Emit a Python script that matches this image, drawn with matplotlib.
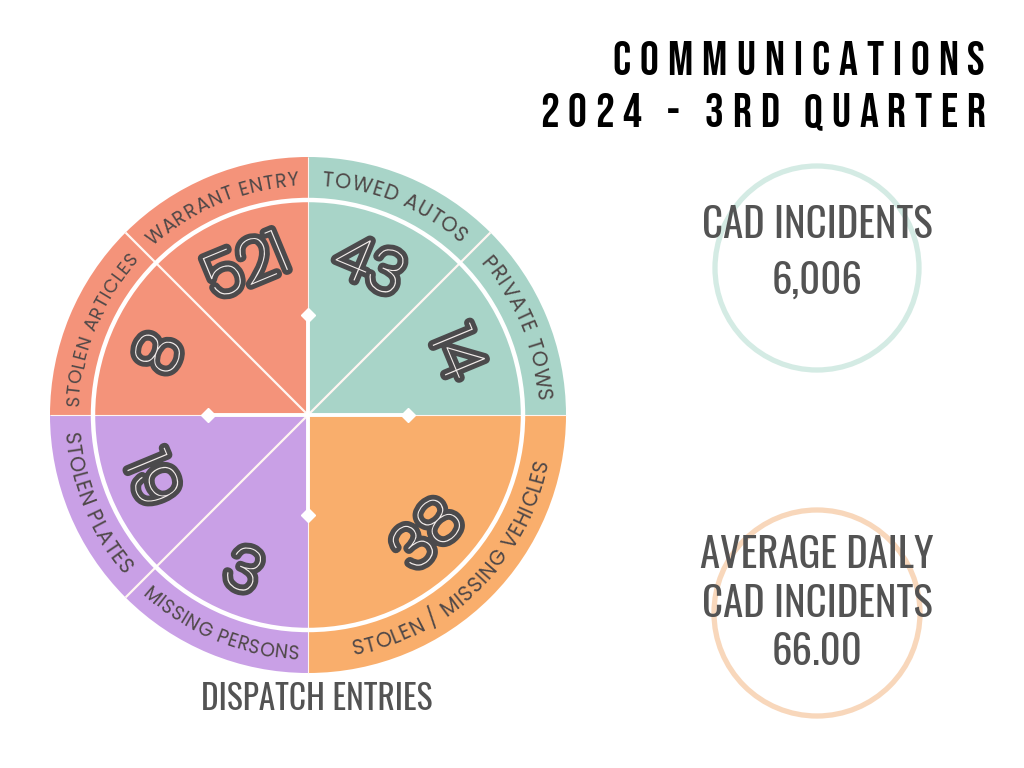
import numpy as np
import matplotlib
matplotlib.use("Agg")
import matplotlib.pyplot as plt
from matplotlib.patches import Circle
from matplotlib.font_manager import FontProperties
from matplotlib.textpath import TextToPath
import matplotlib.patheffects as pe

# data
segments = ["TOWED AUTOS", "PRIVATE TOWS", "STOLEN / MISSING VEHICLES",
            "MISSING PERSONS", "STOLEN PLATES", "STOLEN ARTICLES", "WARRANT ENTRY"]
counts = [43, 14, 38, 3, 19, 8, 521]
spans = [45, 45, 90, 45, 45, 45, 45]   # fixed layout of the wheel, degrees
seg_colors = ["#a8d4c8", "#a8d4c8", "#f9ae6c", "#c9a0e6", "#c9a0e6", "#f4937a", "#f4937a"]

title_lines = ["COMMUNICATIONS", "2024 - 3RD QUARTER"]
cad_incidents = 6006
avg_daily = 66.00

W, H, DPI = 1024, 768, 100
CX, CY = 308, H - 415
R_OUT, R_RING, R_NUM = 258, 215, 165

t2p = TextToPath()

def Y(y):
    return H - y

def adv(ch, prop):
    # advance width of one char in pixels
    a = t2p.get_text_width_height_descent("H" + ch + "H", prop, ismath=False)[0]
    b = t2p.get_text_width_height_descent("HH", prop, ismath=False)[0]
    return (a - b) * DPI / 72

def cap_size(prop, cap_px):
    p = prop.copy()
    p.set_size(100)
    w, h, d = t2p.get_text_width_height_descent("H", p, ismath=False)
    return 100 * (cap_px * 72 / DPI) / (h - d)

def arc_text(s, theta_c, r, prop, color, top_out=True, track=0.0):
    widths = [adv(c, prop) + track for c in s]
    span = sum(widths) / r
    th = np.radians(theta_c) + (span / 2 if top_out else -span / 2)
    for c, w in zip(s, widths):
        if top_out:
            a = th - (w / 2) / r
            rot = np.degrees(a) - 90
            th -= w / r
        else:
            a = th + (w / 2) / r
            rot = np.degrees(a) + 90
            th += w / r
        ax.text(CX + r * np.cos(a), CY + r * np.sin(a), c, rotation=rot,
                rotation_mode="anchor", ha="center", va="baseline",
                fontproperties=prop, color=color, zorder=8)

def tracked(s, x_left, x_right, y_base, prop, color):
    widths = [adv(c, prop) for c in s]
    gap = (x_right - x_left - sum(widths)) / (len(s) - 1)
    x = x_left
    for c, w in zip(s, widths):
        ax.text(x + w / 2, y_base, c, ha="center", va="baseline",
                fontproperties=prop, color=color)
        x += w + gap

fig = plt.figure(figsize=(W / DPI, H / DPI), dpi=DPI)
ax = fig.add_axes([0, 0, 1, 1])

wedges, _ = ax.pie(spans, colors=seg_colors, startangle=90, counterclock=False,
                   radius=R_OUT, center=(CX, CY), frame=True,
                   wedgeprops=dict(linewidth=0))
ax.set_xlim(0, W)
ax.set_ylim(0, H)
ax.set_aspect("equal")
ax.axis("off")

# thin boundaries and diagonals
for ang in [0, 90, 180, 270]:
    a = np.radians(ang)
    ax.plot([CX, CX + R_OUT * np.cos(a)], [CY, CY + R_OUT * np.sin(a)],
            color="#fff4ef", lw=0.8, solid_capstyle="butt", zorder=3)
for ang in [45, 135, 225]:
    a = np.radians(ang)
    ax.plot([CX, CX + R_OUT * np.cos(a)], [CY, CY + R_OUT * np.sin(a)],
            color="#fff6f2", lw=1.6, solid_capstyle="butt", zorder=3)

ax.add_patch(Circle((CX, CY), R_RING, fill=False, ec="white", lw=3.2, zorder=4))

# thick cross with diamonds
for ang in [0, 90, 180, 270]:
    a = np.radians(ang)
    ax.plot([CX, CX + 100 * np.cos(a)], [CY, CY + 100 * np.sin(a)],
            color="white", lw=2.8, solid_capstyle="butt", zorder=5)
    ax.plot(CX + 100 * np.cos(a), CY + 100 * np.sin(a), marker="D", ms=7,
            color="white", mec="white", zorder=6)

LAB_SIZE = 14.8
num_prop = FontProperties(family=["Poppins", "Lato", "DejaVu Sans"], weight=200, size=44)
lab_cap = 15
TRACK = 0.8

for wdg, name, n in zip(wedges, segments, counts):
    mid = ((wdg.theta1 + wdg.theta2) / 2) % 360
    seg_span = abs(wdg.theta2 - wdg.theta1)
    top = np.sin(np.radians(mid)) > 0
    r_lab = 237 - lab_cap / 2 if top else 237 + lab_cap / 2
    # shrink a label that would run past its segment
    lab_prop = FontProperties(family=["Poppins", "Lato", "DejaVu Sans"], size=LAB_SIZE)
    natural = np.degrees(sum(adv(c, lab_prop) + TRACK for c in name) / r_lab)
    limit = seg_span * 0.9 if seg_span < 60 else seg_span * 0.85
    if natural > limit:
        lab_prop.set_size(LAB_SIZE * limit / natural)
    arc_text(name, mid, r_lab, lab_prop, "#4f4848", top, TRACK)
    rot = mid - 90 if top else mid + 90
    a = np.radians(mid)
    ax.text(CX + R_NUM * np.cos(a), CY + R_NUM * np.sin(a), str(n),
            rotation=rot, rotation_mode="anchor", ha="center", va="center_baseline",
            fontproperties=num_prop, color="#f2ecea", zorder=7,
            path_effects=[pe.withStroke(linewidth=7, foreground="#4b4a4c")])

# title
tprop = FontProperties(family=["Bebas Neue", "Fjalla One", "Staatliches", "DejaVu Sans"],
                       weight="bold")
tprop.set_size(cap_size(tprop, 33))
tracked(title_lines[0], 612, 985, Y(75), tprop, "black")
tracked(title_lines[1], 540, 985, Y(127), tprop, "black")

# right side stats
ax.add_patch(Circle((817, Y(268)), 102, fill=False, ec="#d4ebe4", lw=3.8))
ax.add_patch(Circle((817, Y(613)), 103, fill=False, ec="#f8d7bb", lw=3.8))

sprop = FontProperties(family=["Oswald", "DejaVu Sans"], weight="regular")
sprop.set_size(cap_size(sprop, 33))
for txt, yb in [("CAD INCIDENTS", 238), (f"{cad_incidents:,}", 294)]:
    ax.text(817, Y(yb), txt, ha="center", va="baseline", fontproperties=sprop,
            color="#535353")
for txt, yb in [("AVERAGE DAILY", 568), ("CAD INCIDENTS", 617), (f"{avg_daily:.2f}", 665)]:
    ax.text(817, Y(yb), txt, ha="center", va="baseline", fontproperties=sprop,
            color="#535353")

dprop = FontProperties(family=["Oswald", "DejaVu Sans"], weight="regular")
dprop.set_size(cap_size(dprop, 27))
ax.text(317, Y(710), "DISPATCH ENTRIES", ha="center", va="baseline",
        fontproperties=dprop, color="#535353")

fig.savefig("out.png", dpi=DPI)
